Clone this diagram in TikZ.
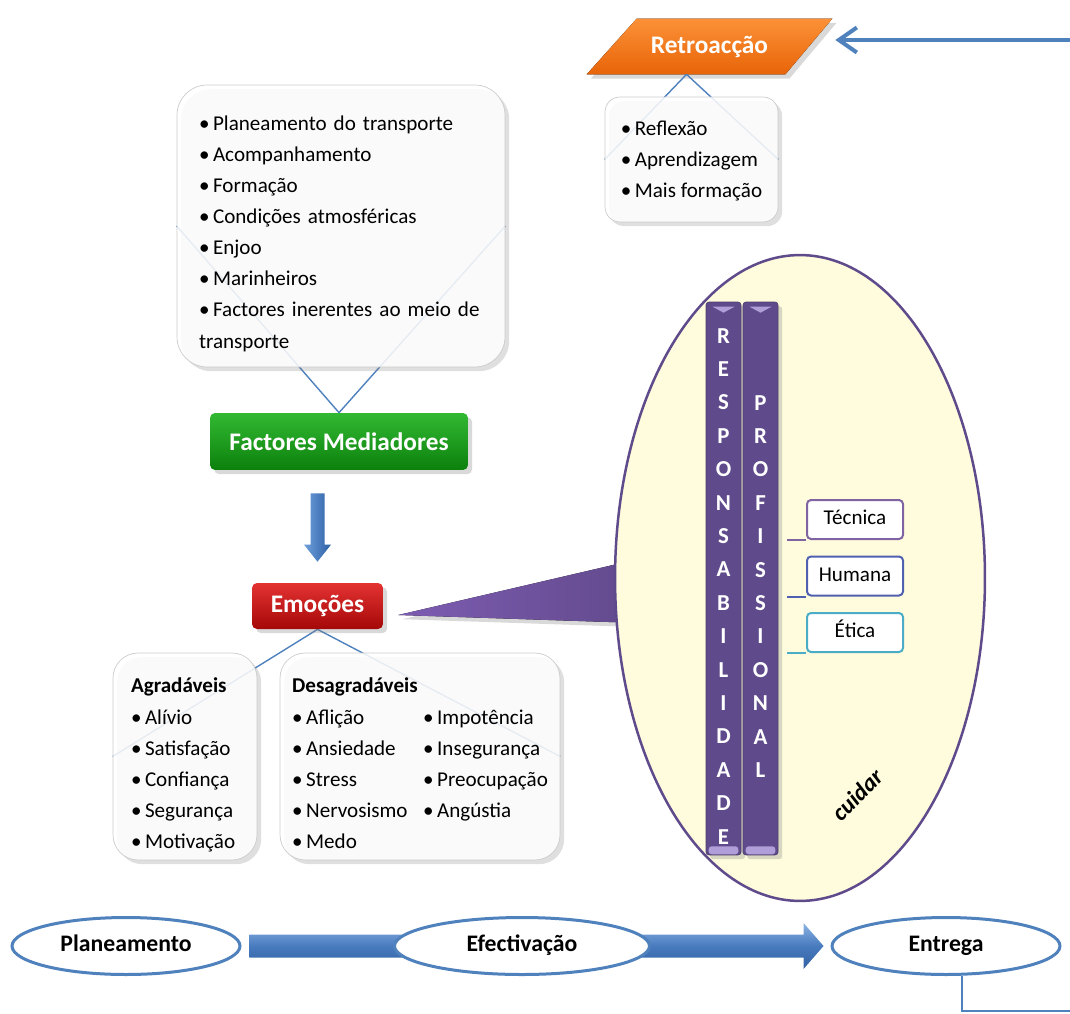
\documentclass[tikz,border=0pt]{standalone}
\usepackage{fontspec}
\setmainfont{Carlito}
\usetikzlibrary{shapes.geometric,arrows.meta,shadows,backgrounds,calc}

\definecolor{fbblue}{RGB}{79,129,189}
\definecolor{arrblue}{RGB}{66,114,180}
\definecolor{rpurple}{RGB}{95,75,139}
\definecolor{lpurple}{RGB}{175,158,215}
\definecolor{callpurple}{RGB}{117,86,166}
\definecolor{careyellow}{RGB}{254,252,220}
\definecolor{tecpurple}{RGB}{128,100,162}
\definecolor{humblue}{RGB}{80,96,176}
\definecolor{etiteal}{RGB}{75,172,198}

\newcommand{\itm}{\textbullet\,}
\newcommand{\lowered}[2]{\raisebox{-#1}[\height][\depth]{\begin{tabular}{@{}l@{}}#2\end{tabular}}}

\begin{document}
\begin{tikzpicture}[x=0.02cm, y=-0.02cm,
    txt/.style={font=\fontsize{12}{17.7}\selectfont},
    box/.style={txt, draw=black!20, fill=white, fill opacity=.85, text opacity=1, drop shadow={opacity=.25}, align=left},
    title/.style={text=white, font=\bfseries\fontsize{14.4}{17}\selectfont, rounded corners=0.1cm, drop shadow={opacity=.3}},
    link/.style={draw=fbblue, line width=0.8pt},
    letter/.style={text=white, font=\bfseries\fontsize{13}{15}\selectfont, inner sep=0pt},
    column/.style={fill=rpurple, draw=rpurple!80!black, rounded corners=0.06cm, minimum width=0.7cm, minimum height=11.06cm, drop shadow={opacity=.3}},
    kind/.style={draw=#1, fill=white, line width=0.04cm, rounded corners=0.08cm, minimum width=1.92cm, minimum height=0.78cm, text height=1.6ex, text depth=0.3ex, font=\fontsize{12}{14}\selectfont},
    stage/.style={ellipse, draw=fbblue, fill=white, line width=0.06cm, minimum height=1.14cm, inner sep=0pt, text height=1.6ex, text depth=0.4ex, font=\bfseries\fontsize{13.5}{16}\selectfont},
  ]
  \useasboundingbox (0,0) rectangle (1070,1013);

  % feedback
  \node[text=white, font=\bfseries\fontsize{14.4}{17}\selectfont, minimum width=4.9cm, minimum height=1.1cm] (ret) at (709.5,46.5) {Retroacção};
  \node[box, rounded corners=0.3cm, minimum width=3.46cm, minimum height=2.5cm] (rbox) at (691.5,159.5)
    {\lowered{0.02cm}{\itm Reflexão\\ \itm Aprendizagem\\ \itm Mais formação}};
  \coordinate (fb) at (1070,40);
  \draw[draw=fbblue, line width=0.08cm, shorten >=0.06cm, -{Straight Barb[length=0.36cm,width=0.5cm]}] (fb) -- (fb -| ret.east);

  % mediating factors
  \node[box, rounded corners=0.6cm, minimum width=6.56cm, minimum height=5.64cm, text width=5.68cm] (mbox) at (341,226)
    {\lowered{0.14cm}{\itm Planeamento do transporte\\ \itm Acompanhamento\\ \itm Formação\\ \itm Condições atmosféricas\\ \itm Enjoo\\ \itm Marinheiros\\ \itm Factores inerentes ao meio de\\ transporte}};
  \node[title, top color={rgb,255:red,50;green,185;blue,50}, bottom color={rgb,255:red,12;green,128;blue,12}, minimum width=5.16cm, minimum height=1.14cm] (fm) at (339,441.5) {Factores Mediadores};
  \node[title, top color={rgb,255:red,228;green,50;blue,50}, bottom color={rgb,255:red,165;green,8;blue,8}, minimum width=2.62cm, minimum height=0.92cm] (emo) at (317.5,606) {Emoções};
  \shade[left color={rgb,255:red,110;green,160;blue,220}, right color={rgb,255:red,45;green,95;blue,165}]
    ($(fm.south -| emo.north)+(-7,23)$) -- ($(emo.north)+(-7,-38)$) -- ($(emo.north)+(-13.5,-38)$) -- ($(emo.north)+(0,-21)$)
    -- ($(emo.north)+(13.5,-38)$) -- ($(emo.north)+(7,-38)$) -- ($(fm.south -| emo.north)+(7,23)$) -- cycle;

  % emotions
  \node[box, rounded corners=0.5cm, minimum width=2.88cm, minimum height=4.14cm, text width=2.16cm] (agr) at (185,756.5)
    {\lowered{0.16cm}{\textbf{Agradáveis}\\ \itm Alívio\\ \itm Satisfação\\ \itm Confiança\\ \itm Segurança\\ \itm Motivação}};
  \node[box, rounded corners=0.5cm, minimum width=5.6cm, minimum height=4.14cm] (des) at (420,756.5)
    {\raisebox{-0.16cm}[\height][\depth]{\begin{tabular}{@{}p{2.62cm}@{}l@{}}
      \multicolumn{2}{@{}l@{}}{\textbf{Desagradáveis}}\\
      \itm Aflição & \itm Impotência\\
      \itm Ansiedade & \itm Insegurança\\
      \itm Stress & \itm Preocupação\\
      \itm Nervosismo & \itm Angústia\\
      \itm Medo &
    \end{tabular}}};

  % professional responsibility
  \node[ellipse, draw=rpurple, fill=careyellow, line width=0.05cm, minimum width=7.4cm, minimum height=12.92cm] (care) at (800,578) {};
  \node[column] (resp) at (723.5,578.5) {};
  \node[column] (prof) at (760.5,578.5) {};
  \foreach \col in {resp,prof} {
    \fill[lpurple] ($(\col.north)+(-11,5)$) -- ($(\col.north)+(11,5)$) -- ($(\col.north)+(0,11)$) -- cycle;
    \fill[lpurple, rounded corners=0.06cm] ($(\col.south west)+(3,-9)$) rectangle ($(\col.south east)+(-3,-1)$);
  }
  \foreach \c [count=\i] in {R,E,S,P,O,N,S,A,B,I,L,I,D,A,D,E}
    \node[letter] (r\i) at ($(resp.north)+(0,{34+33.4*(\i-1)})$) {\c};
  \foreach \c [count=\i] in {P,R,O,F,I,S,S,I,O,N,A,L}
    \node[letter] (p\i) at ($(prof.north)+(0,{101+33.4*(\i-1)})$) {\c};

  \node[kind=tecpurple] (tec) at (855,519.5) {Técnica};
  \node[kind=humblue] (hum) at (855,576) {Humana};
  \node[kind=etiteal] (eti) at (855,632.5) {Ética};
  \draw[tecpurple, line width=0.04cm] (tec.south west) -- +(-19,0);
  \draw[humblue, line width=0.04cm] (hum.south west) -- +(-19,0);
  \draw[etiteal, line width=0.04cm] (eti.south west) -- +(-19,0);
  \node[rotate=45, font=\bfseries\itshape\fontsize{13.5}{16}\selectfont] (cuid) at (857,795) {cuidar};

  % stages
  \node[stage, minimum width=4.56cm] (plan) at (126,946) {Planeamento};
  \node[stage, minimum width=5.1cm] (efec) at (522,946) {Efectivação};
  \node[stage, minimum width=4.56cm] (entr) at (946,946) {Entrega};
  \coordinate (loop) at (1070,1011);
  \draw[draw=fbblue, line width=0.05cm] ($(entr.south)+(16,0)$) |- (loop);

  \begin{scope}[on background layer]
    \fill[drop shadow={opacity=.3}, top color={rgb,255:red,252;green,145;blue,55}, bottom color={rgb,255:red,232;green,100;blue,8}]
      ($(ret.north west)+(50,0)$) -- (ret.north east) -- ($(ret.south east)+(-47,0)$) -- (ret.south west) -- cycle;
    \draw[link] ($(ret.south)+(-23,0)$) -- (rbox.west);
    \draw[link] ($(ret.south)+(-23,0)$) -- (rbox.east);
    \draw[link] (fm.north) -- (mbox.west);
    \draw[link] (fm.north) -- (mbox.east);
    \draw[link] (emo.south) -- (agr.west);
    \draw[link] (emo.south) -- (des.east);
    \fill[drop shadow={opacity=.3}, left color={rgb,255:red,125;green,92;blue,178}, right color={rgb,255:red,98;green,74;blue,140}]
      ($(emo.east)+(15,9)$) -- ($(care.west)+(25,-19)$) -- ($(care.west)+(25,45)$) -- cycle;
    \shade[top color={rgb,255:red,140;green,180;blue,228}, bottom color={rgb,255:red,50;green,96;blue,165}, middle color={rgb,255:red,72;green,122;blue,190}]
      ($(plan.east)+(8,-11.5)$) -- ($(entr.west)+(-27,-11.5)$) -- ($(entr.west)+(-27,-23)$) -- ($(entr.west)+(-7,0)$)
      -- ($(entr.west)+(-27,23)$) -- ($(entr.west)+(-27,11.5)$) -- ($(plan.east)+(8,11.5)$) -- cycle;
  \end{scope}
\end{tikzpicture}
\end{document}
